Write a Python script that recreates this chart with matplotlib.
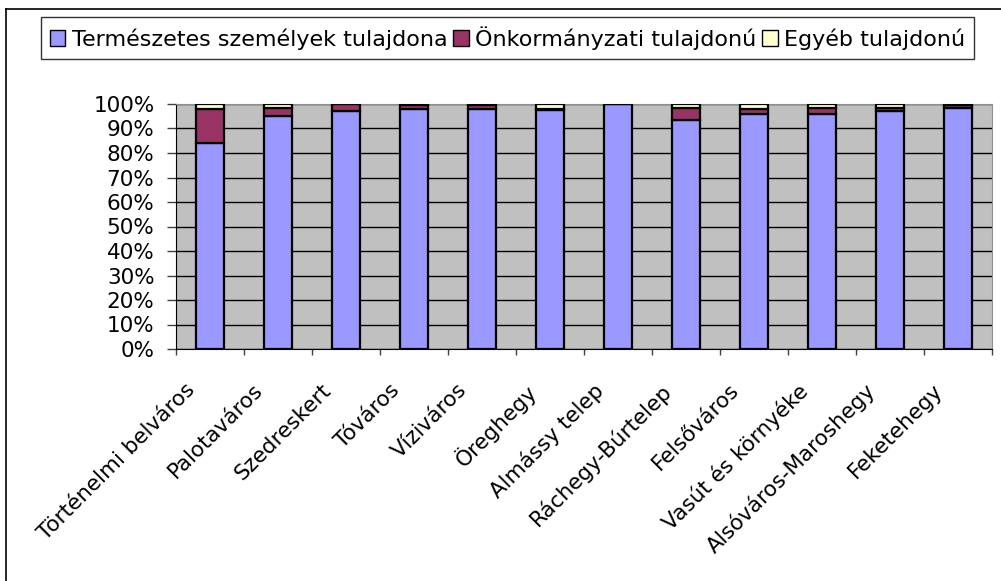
#!/usr/bin/env python3
import numpy as np
import matplotlib
matplotlib.use("Agg")
import matplotlib.pyplot as plt
import matplotlib.transforms as mtransforms
from matplotlib.patches import Patch
from matplotlib.lines import Line2D


DISTRICTS = ["Történelmi belváros", "Palotaváros", "Szedreskert", "Tóváros",
             "Víziváros", "Öreghegy", "Almássy telep", "Ráchegy-Búrtelep",
             "Felsőváros", "Vasút és környéke", "Alsóváros-Maroshegy", "Feketehegy"]
PRIVATE = [84.0, 95.0, 97.0, 98.0, 98.0, 97.5, 100.0, 93.5, 96.0, 96.0, 97.0, 98.4]
MUNICIPAL = [14.0, 3.5, 3.0, 1.5, 1.5, 0.5, 0.0, 5.0, 2.0, 2.5, 1.5, 1.0]
OTHER = [2.0, 1.5, 0.0, 0.5, 0.5, 2.0, 0.0, 1.5, 2.0, 1.5, 1.5, 0.6]
SERIES = ["Természetes személyek tulajdona", "Önkormányzati tulajdonú", "Egyéb tulajdonú"]
COLORS = ["#9999FF", "#993366", "#FFFFCC"]


def main():
    plt.rcParams['font.family'] = ['DejaVu Sans']
    W, H = 1001, 581
    fig = plt.figure(figsize=(W / 100, H / 100), dpi=100)
    ax = fig.add_axes([176 / W, 1 - 349 / H, (992 - 176) / W, (349 - 104) / H])
    ax.set_facecolor("#C0C0C0")

    x = np.arange(len(DISTRICTS))
    bottom = np.zeros(len(DISTRICTS))
    for vals, col in zip([PRIVATE, MUNICIPAL, OTHER], COLORS):
        ax.bar(x, vals, width=0.4, bottom=bottom, color=col, edgecolor="black",
               linewidth=1.6, zorder=3)
        bottom += np.array(vals)

    ax.set_xlim(-0.5, len(DISTRICTS) - 0.5)
    ax.set_ylim(0, 100)
    ax.set_yticks(np.arange(0, 101, 10))
    ax.set_yticklabels([f"{v}%" for v in range(0, 101, 10)], fontsize=15.5)
    ax.yaxis.grid(True, color="black", linewidth=1, zorder=1)
    ax.set_axisbelow(True)

    # category labels, rotated 45 degrees and offset below the axis
    ax.set_xticks(x)
    ax.set_xticklabels([])
    shift = mtransforms.ScaledTranslation(-0.25, -0.31, fig.dpi_scale_trans)
    for xi, name in zip(x, DISTRICTS):
        ax.text(xi, 0, name, rotation=45, ha="right", va="top", rotation_mode="anchor",
                fontsize=15.5, transform=ax.get_xaxis_transform() + shift)

    ax.set_xticks(np.arange(-0.5, len(DISTRICTS)), minor=True)
    ax.tick_params(axis="x", which="major", length=0)
    ax.tick_params(axis="x", which="minor", length=4.5, width=1, color="#404040")
    ax.tick_params(axis="y", length=6.5, width=1, color="#404040", pad=9)

    ax.spines["left"].set_color("black")
    ax.spines["bottom"].set_color("black")
    ax.spines["top"].set_color("#909090")
    ax.spines["right"].set_color("#909090")

    handles = [Patch(facecolor=c, edgecolor="black", linewidth=1) for c in COLORS]
    leg = fig.legend(handles, SERIES, loc="center",
                     bbox_to_anchor=((42 + 973) / 2 / W, 1 - 38 / H),
                     ncol=3, fontsize=16, frameon=True, fancybox=False,
                     handlelength=0.7, handleheight=0.7, handletextpad=0.3,
                     columnspacing=0.25, borderpad=0.4, borderaxespad=0)
    leg.get_frame().set_edgecolor("black")
    leg.get_frame().set_linewidth(1)

    # outer chart frame
    fig.add_artist(Line2D([6 / W, 6 / W], [0, 1 - 9 / H], color="black", linewidth=1.2,
                          transform=fig.transFigure))
    fig.add_artist(Line2D([6 / W, 1], [1 - 9 / H, 1 - 9 / H], color="black", linewidth=1.2,
                          transform=fig.transFigure))

    fig.savefig("out.png", dpi=100)


if __name__ == '__main__':
    main()
